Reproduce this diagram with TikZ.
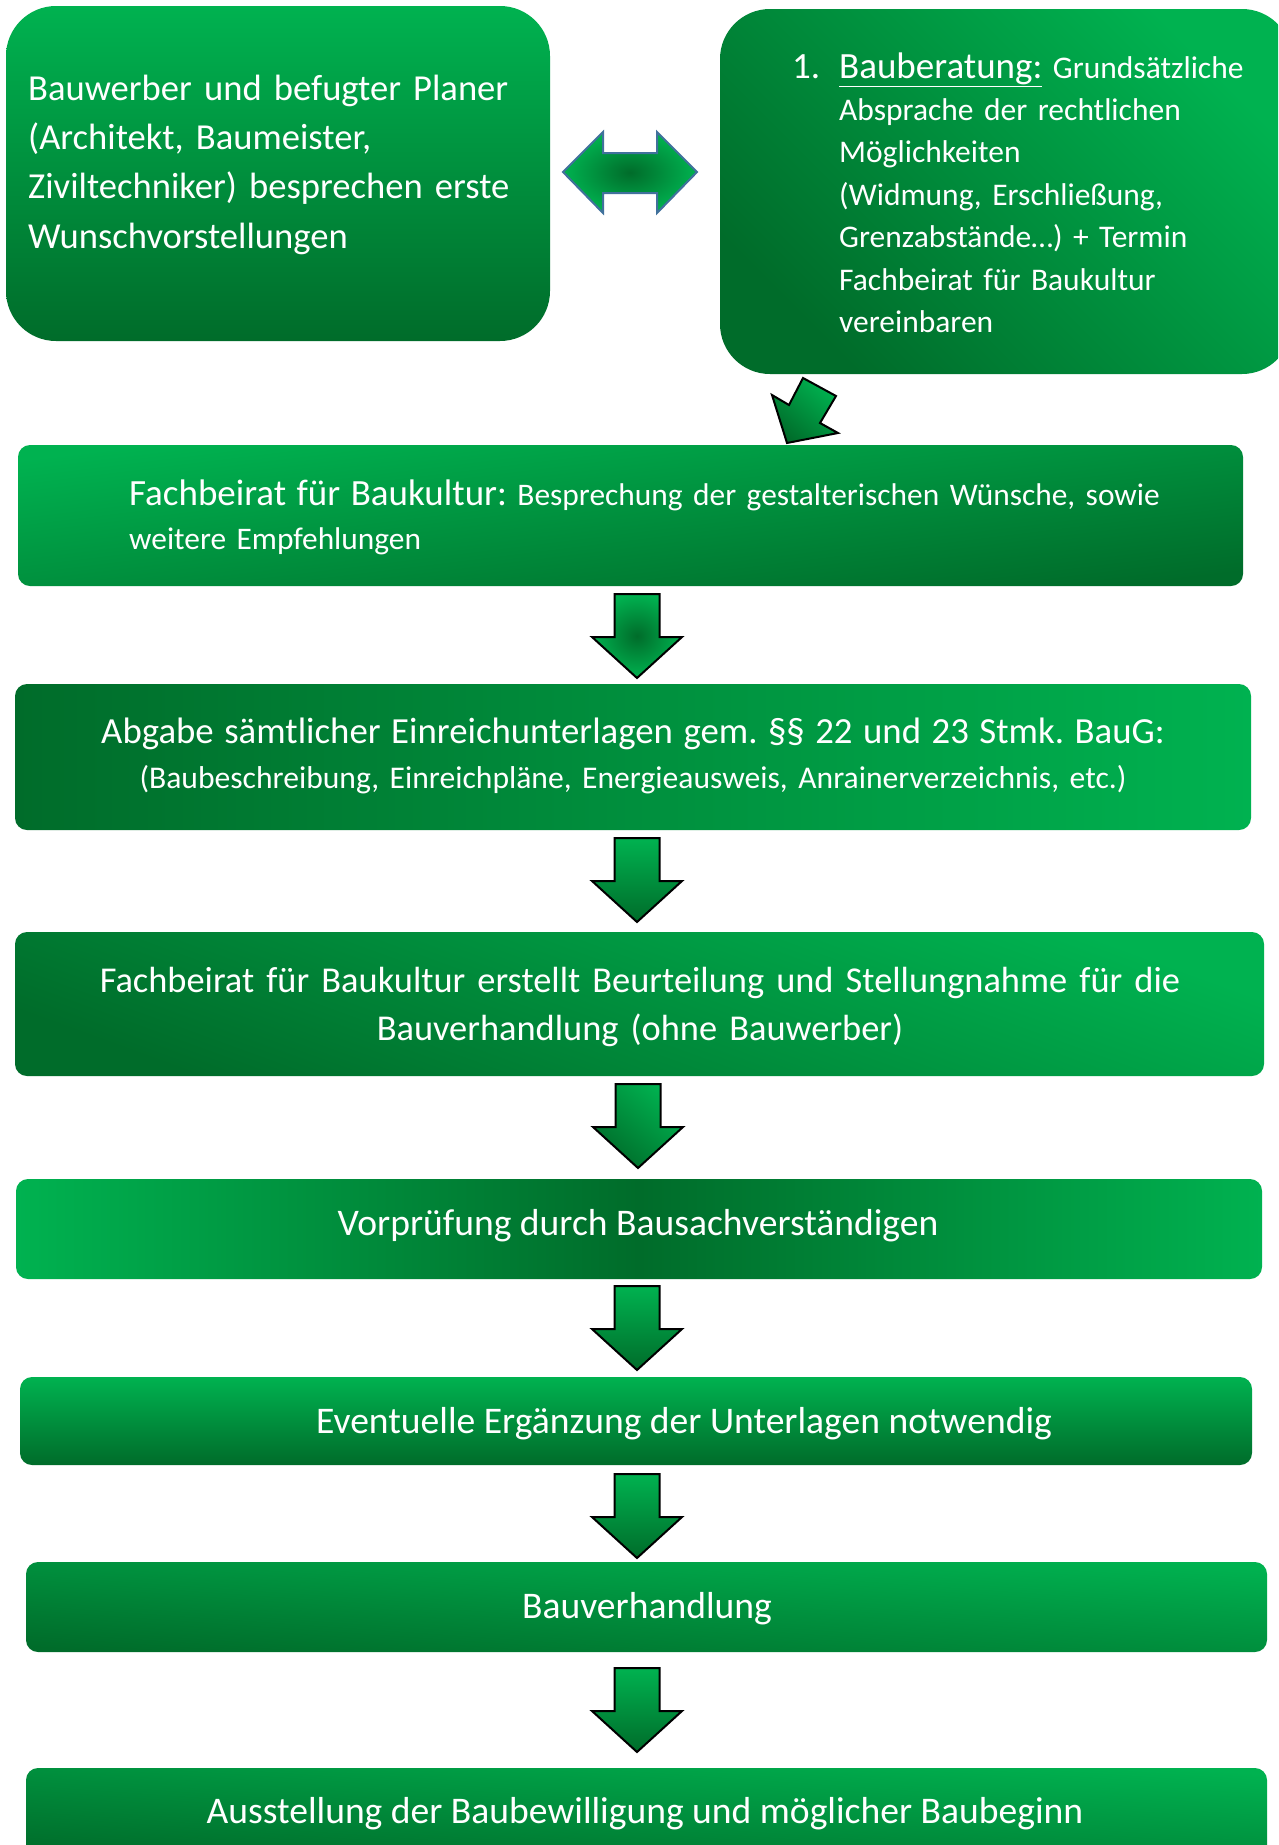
\documentclass[tikz,border=0pt]{standalone}
\usepackage{fontspec}
\setmainfont{Carlito}
\frenchspacing
\definecolor{gbright}{RGB}{0,178,80}
\definecolor{gdark}{RGB}{0,108,42}
\definecolor{arrowblue}{RGB}{65,113,156}
\newcommand\DnArrow[3]{%
  \path[blockarrow,#3,shift={(#1,#2)}] (-22.5,0) -- (22.5,0) -- (22.5,43) -- (45,43)
    -- (0,84) -- (-45,43) -- (-22.5,43) -- cycle;}
\begin{document}
\begin{tikzpicture}[x=1pt,y=-1pt,
  box/.style={rectangle, rounded corners=12pt, inner sep=0pt, draw=none},
  topbox/.style={rectangle, rounded corners=50pt, inner sep=0pt, draw=none},
  txt/.style={text=white, inner sep=0pt, font=\fontsize{37.6}{49.4}\selectfont},
  blockarrow/.style={draw=black, line width=2pt, line join=miter},
]
\useasboundingbox (0,0) rectangle (1278,1845);
\clip (0,0) rectangle (1278,1845);
\fill[white] (0,0) rectangle (1278,1845);

% boxes
\node[topbox, minimum width=544pt, minimum height=335pt, top color=gbright, bottom color=gdark] (b1) at (278,173.5) {};
\node[topbox, minimum width=572pt, minimum height=365pt, top color=gbright, bottom color=gdark, shading angle=-45] (b2) at (1006,191.5) {};
\node[box, minimum width=1225pt, minimum height=141pt, top color=gbright, bottom color=gdark, shading angle=7] (b3) at (630.5,515.5) {};
\node[box, minimum width=1236pt, minimum height=146pt, left color=gdark, right color=gbright] (b4) at (633,757) {};
\node[box, minimum width=1249pt, minimum height=144pt, top color=gbright, bottom color=gdark, shading angle=-20] (b5) at (639.5,1004) {};
\node[box, minimum width=1246pt, minimum height=100pt, left color=gbright, right color=gbright, middle color=gdark] (b6) at (639,1229) {};
\node[box, minimum width=1232pt, minimum height=88pt, top color=gbright, bottom color=gdark] (b7) at (636,1421) {};
\node[box, minimum width=1241pt, minimum height=90pt, top color=gbright, bottom color=gdark, shading angle=-4] (b8) at (646.5,1607) {};
\node[box, minimum width=1241pt, minimum height=90pt, top color=gbright, bottom color=gdark, shading angle=-4] (b9) at (646.5,1813) {};

% double arrow between the two top boxes
\path[draw=arrowblue, line width=2pt, line join=miter, inner color=gdark, outer color=gbright]
  (563,172) -- (603,132) -- (603,153) -- (657,153) -- (657,132) -- (697,172)
  -- (657,213) -- (657,193) -- (603,193) -- (603,213) -- cycle;

% diagonal arrow
\path[blockarrow, top color=gbright, bottom color=gdark, shading angle=-40]
  (803,378) -- (836,396) -- (820,423) -- (838,433) -- (787,443) -- (772,395) -- (789,405) -- cycle;

% down arrows
\DnArrow{637}{594}{inner color=gdark, outer color=gbright}
\DnArrow{637}{838}{top color=gbright, bottom color=gdark}
\DnArrow{638}{1084}{top color=gbright, bottom color=gdark, shading angle=-40}
\DnArrow{637}{1286}{top color=gbright, bottom color=gdark}
\DnArrow{637}{1474}{top color=gbright, bottom color=gdark}
\DnArrow{637}{1668}{top color=gbright, bottom color=gdark}

% texts
\node[txt, anchor=base west, text width=520pt, align=left, font=\fontsize{36.6}{49.4}\selectfont] (t1) at (28,100)
  {Bauwerber und befugter Planer\\(Architekt, Baumeister,\\Ziviltechniker) besprechen erste\\Wunschvorstellungen};
\node[txt, anchor=base west, font=\fontsize{37}{42}\selectfont] (t2n) at (792,78) {1.};
\node[txt, anchor=base west, text width=440pt, align=left, font=\fontsize{31.5}{42.4}\selectfont] (t2) at (839,78)
  {{\fontsize{37}{42.4}\selectfont\underline{Bauberatung:}} Grundsätzliche\\Absprache der rechtlichen\\Möglichkeiten\\(Widmung, Erschließung,\\Grenzabstände…) + Termin\\Fachbeirat für Baukultur\\vereinbaren};
\node[txt, anchor=base west, text width=1100pt, align=left, font=\fontsize{31.4}{44}\selectfont] (t3) at (129,505)
  {{\fontsize{37}{44}\selectfont Fachbeirat für Baukultur:} Besprechung der gestalterischen Wünsche, sowie\\weitere Empfehlungen};
\node[txt, anchor=base, text width=1220pt, align=center, font=\fontsize{31.6}{45}\selectfont] (t4) at (633,743)
  {{\fontsize{36.8}{45}\selectfont Abgabe sämtlicher Einreichunterlagen gem. §§ 22 und 23 Stmk. BauG:}\\(Baubeschreibung, Einreichpläne, Energieausweis, Anrainerverzeichnis, etc.)};
\node[txt, anchor=base, text width=1220pt, align=center, font=\fontsize{36.4}{48}\selectfont] (t5) at (640,992)
  {Fachbeirat für Baukultur erstellt Beurteilung und Stellungnahme für die\\Bauverhandlung (ohne Bauwerber)};
\node[txt, anchor=base] (t6) at (638,1235) {Vorprüfung durch Bausachverständigen};
\node[txt, anchor=base] (t7) at (684,1433) {Eventuelle Ergänzung der Unterlagen notwendig};
\node[txt, anchor=base] (t8) at (647,1618) {Bauverhandlung};
\node[txt, anchor=base] (t9) at (645,1823) {Ausstellung der Baubewilligung und möglicher Baubeginn};
\end{tikzpicture}
\end{document}
